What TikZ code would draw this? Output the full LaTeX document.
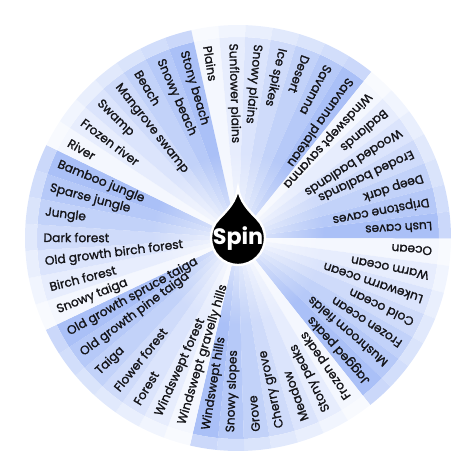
\documentclass[tikz,border=0pt]{standalone}
\usepackage{fontspec}
\setmainfont{Poppins}
\newfontfamily\biomefont{Poppins}[FakeBold=1.3]
\usepackage{color}
\usepackage{tikz}
\usetikzlibrary{fadings}

\definecolor{wheelblue}{RGB}{160,185,246}
\definecolor{ink}{RGB}{20,20,24}
\tikzfading[name=glow, inner color=transparent!25, outer color=transparent!100]
\tikzset{
  biome/.style={font=\biomefont\fontsize{10.4}{12}\selectfont, text=ink,
    inner sep=0pt, anchor=west},
  spinbtn/.style={fill=black, draw=white, line width=2pt}
}
\def\biomes{Plains, Sunflower plains, Snowy plains, Ice spikes, Desert, Savanna,
  Savanna plateau, Windswept savanna, Badlands, Wooded badlands, Eroded badlands,
  Deep dark, Dripstone caves, Lush caves, Ocean, Warm ocean, Lukewarm ocean,
  Cold ocean, Frozen ocean, Mushroom fields, Jagged peaks, Frozen peaks,
  Stony peaks, Meadow, Cherry grove, Grove, Snowy slopes, Windswept hills,
  Windswept gravelly hills, Windswept forest, Forest, Flower forest, Taiga,
  Old growth pine taiga, Old growth spruce taiga, Snowy taiga, Birch forest,
  Old growth birch forest, Dark forest, Jungle, Sparse jungle, Bamboo jungle,
  River, Frozen river, Swamp, Mangrove swamp, Beach, Snowy beach, Stony beach}

\begin{document}
\begin{tikzpicture}
    \useasboundingbox (-7.14,-7.08) rectangle (7.08,7.14);
    \begin{scope}
      \foreach \name [count=\i] in \biomes {
        \pgfmathsetmacro{\a}{99-(\i-1)*7.3469}
        \pgfmathtruncatemacro{\k}{12+13*mod(\i-1,7)}
        \pgfmathtruncatemacro{\kr}{7+8*mod(\i-1,7)}
        \fill[wheelblue!\k!white] (0,0) -- (\a-3.674:6.03)
          arc[start angle=\a-3.674, end angle=\a+3.674, radius=6.03] -- cycle;
        \fill[wheelblue!\kr!white] (\a-3.674:6.03)
          arc[start angle=\a-3.674, end angle=\a+3.674, radius=6.03]
          -- (\a+3.674:6.39)
          arc[start angle=\a+3.674, end angle=\a-3.674, radius=6.39] -- cycle;
      }
      \fill[white, path fading=glow] (0,0) circle (2.6);
      \foreach \name [count=\i] in \biomes {
        \pgfmathsetmacro{\a}{99-(\i-1)*7.3469}
        \node[biome, rotate=\a+180] (l\i) at (\a:5.84) {\name};
      }
    \end{scope}
    \filldraw[spinbtn] (45:0.81) arc[start angle=45, end angle=-225, radius=0.81]
      .. controls (-0.3,0.85) and (-0.06,1.1) .. (0,1.5)
      .. controls (0.06,1.1) and (0.3,0.85) .. cycle;
    \node[text=white, font=\fontsize{19}{20}\selectfont\bfseries] (spin) at (0,-0.02) {Spin};
  \end{tikzpicture}
\end{document}
